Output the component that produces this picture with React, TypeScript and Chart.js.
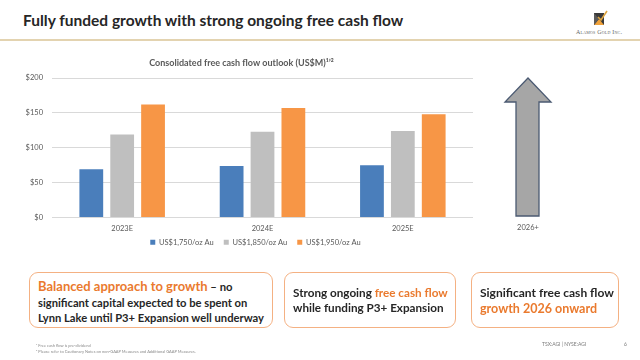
import React, { useEffect, useRef } from "react";
import { Chart, registerables } from "chart.js";

Chart.register(...registerables);

// ---- data ----
const categories = ["2023E", "2024E", "2025E"];
const fcf1750 = [69, 74, 75];
const fcf1850 = [119, 123, 124];
const fcf1950 = [162, 157, 148];
const seriesNames = ["US$1,750/oz Au", "US$1,850/oz Au", "US$1,950/oz Au"];
const yTickValues = [0, 50, 100, 150, 200];
const outlookLabel = "2026+";

const FONT = "Lato, 'Open Sans', sans-serif";
const AXIS_TXT = "#595959";
const DARK = "#262626";
const ORANGE = "#ea7a2e";
const BOX_BORDER = "#f4b183";

// nudges the legend after layout so it sits where the original places it
const legendShift = {
  id: "legendShift",
  afterLayout(chart: any) {
    const l = chart.legend;
    if (l) {
      l.top -= 11;
      l.bottom -= 11;
      l.left -= 7;
      l.right -= 7;
    }
  },
};

export default function App() {
  const canvasRef = useRef<HTMLCanvasElement>(null);

  useEffect(() => {
    const chart = new Chart(canvasRef.current as HTMLCanvasElement, {
      type: "bar",
      data: {
        labels: categories,
        datasets: [
          { label: seriesNames[0], data: fcf1750, backgroundColor: "#4a7ebb" },
          { label: seriesNames[1], data: fcf1850, backgroundColor: "#bfbfbf" },
          { label: seriesNames[2], data: fcf1950, backgroundColor: "#f79646" },
        ],
      },
      plugins: [legendShift],
      options: {
        animation: false,
        responsive: false,
        maintainAspectRatio: false,
        layout: { padding: { left: 10, right: 9, top: 0, bottom: 0 } },
        datasets: { bar: { categoryPercentage: 0.66, barPercentage: 0.77 } },
        plugins: {
          title: {
            display: true,
            text: "Consolidated free cash flow outlook (US$M)\u00B9\u02BC\u00B2",
            color: AXIS_TXT,
            font: { family: FONT, size: 9, weight: "bold" },
            padding: { top: 6, bottom: 9.2 },
          },
          legend: {
            position: "bottom",
            fullSize: false,
            labels: {
              boxWidth: 5,
              boxHeight: 5,
              padding: 10,
              color: AXIS_TXT,
              font: { family: FONT, size: 7.5 },
            },
          },
          tooltip: { enabled: false },
        },
        scales: {
          x: {
            grid: { display: false, drawTicks: false },
            border: { display: false },
            ticks: { color: AXIS_TXT, font: { family: FONT, size: 7.5 }, padding: 6.5 },
          },
          y: {
            min: 0,
            max: 200,
            grid: { color: "#d9d9d9", drawTicks: false },
            border: { display: false },
            ticks: {
              color: AXIS_TXT,
              font: { family: FONT, size: 7.5 },
              padding: 9,
              callback: (v: any) => "$" + v,
            },
            afterBuildTicks: (s: any) => {
              s.ticks = yTickValues.map((v) => ({ value: v }));
            },
            afterFit: (s: any) => {
              s.width = 42;
            },
          },
        },
      },
    });
    return () => chart.destroy();
  }, []);

  const boxBase: React.CSSProperties = {
    position: "absolute",
    top: 272,
    height: 56,
    border: `1px solid ${BOX_BORDER}`,
    borderRadius: 9,
    boxSizing: "border-box",
    background: "#fff",
    display: "flex",
    alignItems: "center",
    fontFamily: FONT,
    fontWeight: 700,
    fontSize: 12,
    color: DARK,
    whiteSpace: "nowrap",
  };

  return (
    <div
      style={{
        position: "fixed",
        left: 0,
        top: 0,
        width: 640,
        height: 360,
        background: "#fff",
        overflow: "hidden",
        fontFamily: FONT,
      }}
    >
      {/* slide title */}
      <div
        style={{
          position: "absolute",
          left: 23,
          top: 11,
          fontSize: 15.5,
          fontWeight: 700,
          color: DARK,
          whiteSpace: "nowrap",
          lineHeight: "19px",
        }}
      >
        Fully funded growth with strong ongoing free cash flow
      </div>
      <div
        style={{
          position: "absolute",
          left: 0,
          top: 39,
          width: 640,
          height: 2,
          background: "#e3d3b0",
        }}
      />

      {/* logo */}
      <svg
        style={{ position: "absolute", left: 591, top: 9 }}
        width={18}
        height={18}
        viewBox="0 0 18 18"
      >
        <rect x={3} y={4} width={10} height={12} fill="#3a3a3a" />
        <polygon points="3,16 8,10 13,16" fill="#f0a23b" />
        <polygon points="3,4 8,10 3,16" fill="#5a5a5a" />
        <polyline points="7,8 10,11 16,2" fill="none" stroke="#e0a640" strokeWidth={1.6} />
      </svg>
      <div
        style={{
          position: "absolute",
          left: 576,
          top: 29,
          fontFamily: "'Liberation Serif', 'DejaVu Serif', serif",
          fontSize: 6,
          fontVariant: "small-caps",
          color: "#666",
          whiteSpace: "nowrap",
          letterSpacing: 0.2,
        }}
      >
        Alamos Gold Inc.
      </div>

      {/* chart */}
      <canvas
        ref={canvasRef}
        width={482}
        height={215}
        style={{ position: "absolute", left: 0, top: 52, width: 482, height: 215 }}
      />

      {/* 2026+ growth arrow */}
      <svg
        style={{ position: "absolute", left: 0, top: 0 }}
        width={640}
        height={360}
        pointerEvents="none"
      >
        <polygon
          points="528,78 551,102 539,102 539,216 516,216 516,102 505,102"
          fill="#a6a6a6"
          stroke="#4b5a72"
          strokeWidth={1.3}
        />
      </svg>
      <div
        style={{
          position: "absolute",
          left: 508,
          top: 223,
          width: 40,
          textAlign: "center",
          fontSize: 7.5,
          color: AXIS_TXT,
          lineHeight: "10px",
        }}
      >
        {outlookLabel}
      </div>

      {/* message boxes */}
      <div style={{ ...boxBase, left: 29, width: 244, paddingLeft: 8, paddingTop: 5, fontSize: 11.2 }}>
        <div style={{ lineHeight: "15.5px" }}>
          <span style={{ color: ORANGE, fontSize: 13 }}>Balanced approach to growth</span>
          <span style={{ fontSize: 11.3 }}> – no</span>
          <br />
          significant capital expected to be spent on
          <br />
          Lynn Lake until P3+ Expansion well underway
        </div>
      </div>
      <div style={{ ...boxBase, left: 284, width: 172, paddingLeft: 8, fontSize: 11.7 }}>
        <div style={{ lineHeight: "15px" }}>
          Strong ongoing <span style={{ color: ORANGE }}>free cash flow</span>
          <br />
          while funding P3+ Expansion
        </div>
      </div>
      <div style={{ ...boxBase, left: 471, width: 148, paddingLeft: 8, paddingTop: 2 }}>
        <div style={{ lineHeight: "15.7px" }}>
          Significant free cash flow
          <br />
          <span style={{ color: ORANGE, fontSize: 12.5 }}>growth 2026 onward</span>
        </div>
      </div>

      {/* footnotes */}
      <div
        style={{
          position: "absolute",
          left: 36,
          top: 343,
          fontSize: 4,
          lineHeight: "6px",
          color: "#8a8a8a",
          whiteSpace: "nowrap",
        }}
      >
        {"\u00B9 Free cash flow is pre-dividend"}
        <br />
        {"\u00B2 Please refer to Cautionary Notes on non-GAAP Measures and Additional GAAP Measures."}
      </div>
      <div
        style={{
          position: "absolute",
          left: 542,
          top: 341,
          fontSize: 5,
          lineHeight: "7px",
          color: "#7a7a7a",
          whiteSpace: "nowrap",
        }}
      >
        TSX:AGI | NYSE:AGI
      </div>
      <div
        style={{
          position: "absolute",
          left: 624,
          top: 341,
          fontSize: 5,
          lineHeight: "7px",
          color: "#7a7a7a",
        }}
      >
        6
      </div>
    </div>
  );
}
